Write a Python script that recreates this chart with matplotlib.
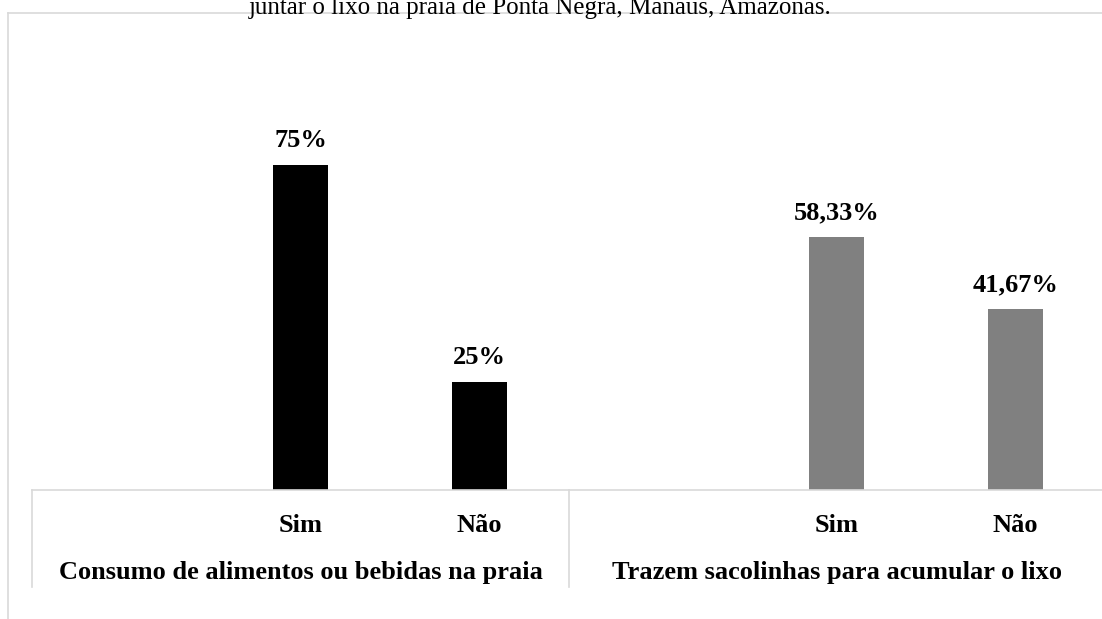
import matplotlib
matplotlib.use('Agg')
import matplotlib.pyplot as plt
from matplotlib.lines import Line2D
import matplotlib.transforms as mtransforms

# Data
groups = ['Consumo de alimentos ou bebidas na praia', 'Trazem sacolinhas para acumular o lixo']
answers = ['', 'Sim', 'Não']
consumo = [None, 75.0, 25.0]
sacolinhas = [None, 58.33, 41.67]
value_labels = [['', '75%', '25%'], ['', '58,33%', '41,67%']]
colors = ['#000000', '#808080']
title = 'juntar o lixo na praia de Ponta Negra, Manaus, Amazonas.'

plt.rcParams['font.family'] = ['Liberation Serif', 'DejaVu Serif']

W, H = 1102, 619
fig = plt.figure(figsize=(W / 100, H / 100), dpi=100)

# axes geometry in pixels
x0, slot = 32.4, 178.75
base_y = 490
ymax = 80
px_per_unit = 4.333
ax_h = ymax * px_per_unit
ax = fig.add_axes([x0 / W, (H - base_y) / H, 6 * slot / W, ax_h / H])

series = [consumo, sacolinhas]
positions = []
ticklabels = []
for g, vals in enumerate(series):
    for i, v in enumerate(vals):
        pos = g * 3 + i
        positions.append(pos)
        ticklabels.append(answers[i])
        if v is None:
            continue
        ax.bar(pos, v, width=0.31, color=colors[g])
        ax.text(pos, v + 5.6, value_labels[g][i], ha='center', va='center',
                fontsize=19, fontweight='bold')

ax.set_xlim(-0.5, 5.5)
ax.set_ylim(0, ymax)
ax.set_yticks([])
ax.set_xticks(positions)
ax.set_xticklabels(ticklabels, fontsize=19, fontweight='bold')
ax.tick_params(axis='x', length=0, pad=17)
for s in ['left', 'right', 'top']:
    ax.spines[s].set_visible(False)
ax.spines['bottom'].set_color('#d9d9d9')
ax.spines['bottom'].set_linewidth(1.2)

trans = mtransforms.blended_transform_factory(ax.transData, ax.transAxes)
sep_bottom = -(587 - base_y) / ax_h
for xb in [-0.5, 2.5, 5.5]:
    ax.plot([xb, xb], [0, sep_bottom], color='#d9d9d9', lw=1.2,
            transform=trans, clip_on=False)
group_y = -(572 - base_y) / ax_h
for g, name in enumerate(groups):
    ax.text(g * 3 + 1, group_y, name, transform=trans, ha='center', va='center',
            fontsize=19, fontweight='bold')

# outer chart frame
fx, fy = 8 / W, 1 - 13 / H
fig.add_artist(Line2D([fx, 1], [fy, fy], color='#d9d9d9', lw=1.2))
fig.add_artist(Line2D([fx, fx], [fy, 0], color='#d9d9d9', lw=1.2))

fig.text(540 / W, 1 - 14 / H, title, ha='center', va='baseline', fontsize=18)

fig.savefig('out.png', dpi=100)
